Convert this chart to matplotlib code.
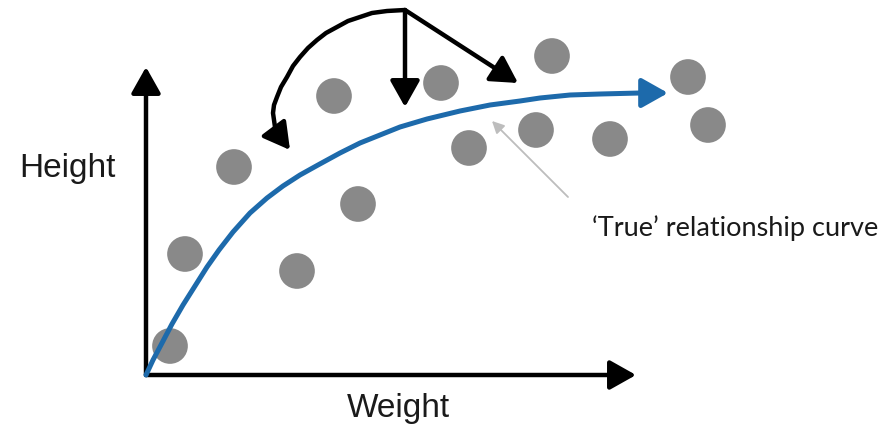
import matplotlib
matplotlib.use("Agg")
import matplotlib.pyplot as plt

# everything is in picture pixels: x to the right, y downward
point_x = [170, 185, 234, 297, 334, 358, 441, 469, 536, 552, 610, 688, 708]
point_y = [346, 254, 167, 271, 96, 204, 83, 148, 130, 56, 139, 77, 125]

curve_x = [146, 153, 162, 172, 183, 195, 207, 219, 233, 250, 267, 283, 300, 318, 340,
           360, 380, 400, 427, 460, 490, 520, 540, 570, 600, 640, 668]
curve_y = [375, 360, 343, 324, 305, 286, 267, 250, 232, 213, 198, 186, 175, 165, 153,
           143, 135, 127, 119, 111, 105, 101, 98, 95, 94, 93, 93]

origin = (146, 375)
y_axis_tip = (146, 67)
x_axis_tip = (636, 375)

apex = (405, 10)
down_tip = (405, 107)
diag_tip = (518, 83)
loop_x = [405, 387, 372, 360, 348, 337, 326, 317, 308, 300, 293, 287, 281, 277, 274, 273, 274, 275, 278, 281]
loop_y = [10, 11, 13, 17, 21, 27, 33, 40, 48, 57, 66, 77, 87, 97, 105, 113, 120, 127, 133, 138]
loop_tip = (290, 150)

note_tail = (568, 197)
note_tip = (492, 121)

BLUE = "#1d6aab"
GREY = "#898989"

fig = plt.figure(figsize=(8.92, 4.29), dpi=100)
ax = fig.add_axes([0, 0, 1, 1])
ax.set_xlim(0, 892)
ax.set_ylim(429, 0)
ax.axis("off")

head = "-|>,head_length=0.8,head_width=0.45"


def arrow(tail, tip, color="black", lw=3.2, style=head, scale=20, z=3):
    ax.annotate("", xy=tip, xytext=tail,
                arrowprops=dict(arrowstyle=style, color=color, lw=lw,
                                shrinkA=0, shrinkB=0, mutation_scale=scale),
                zorder=z)


# axes
arrow(origin, y_axis_tip)
arrow(origin, x_axis_tip)

ax.scatter(point_x, point_y, s=660, color=GREY, edgecolors="none", zorder=2)

# blue curve with arrow at the end
ax.plot(curve_x[:-1], curve_y[:-1], color=BLUE, lw=3.6,
        solid_capstyle="round", solid_joinstyle="round", zorder=4)
arrow((curve_x[-2], curve_y[-2]), (curve_x[-1], curve_y[-1]), color=BLUE, lw=3.6, z=4)

# black arrows at the top
ax.plot(loop_x, loop_y, color="black", lw=3.2,
        solid_capstyle="round", solid_joinstyle="round", zorder=3)
arrow((loop_x[-1], loop_y[-1]), loop_tip)
arrow(apex, down_tip)
arrow(apex, diag_tip)

# note arrow
arrow(note_tail, note_tip, color="#bdbdbd", lw=1.3,
      style="-|>,head_length=0.6,head_width=0.3", scale=12)

ax.text(67, 168, "Height", fontsize=24, family="Liberation Sans",
        ha="center", va="center", color="#1a1a1a")
ax.text(398, 408, "Weight", fontsize=24, family="Liberation Sans",
        ha="center", va="center", color="#1a1a1a")
ax.text(592, 228, "\u2018True\u2019 relationship curve", fontsize=19.5, family="Lato",
        ha="left", va="center", color="#1a1a1a")

fig.savefig("out.png", dpi=100)
